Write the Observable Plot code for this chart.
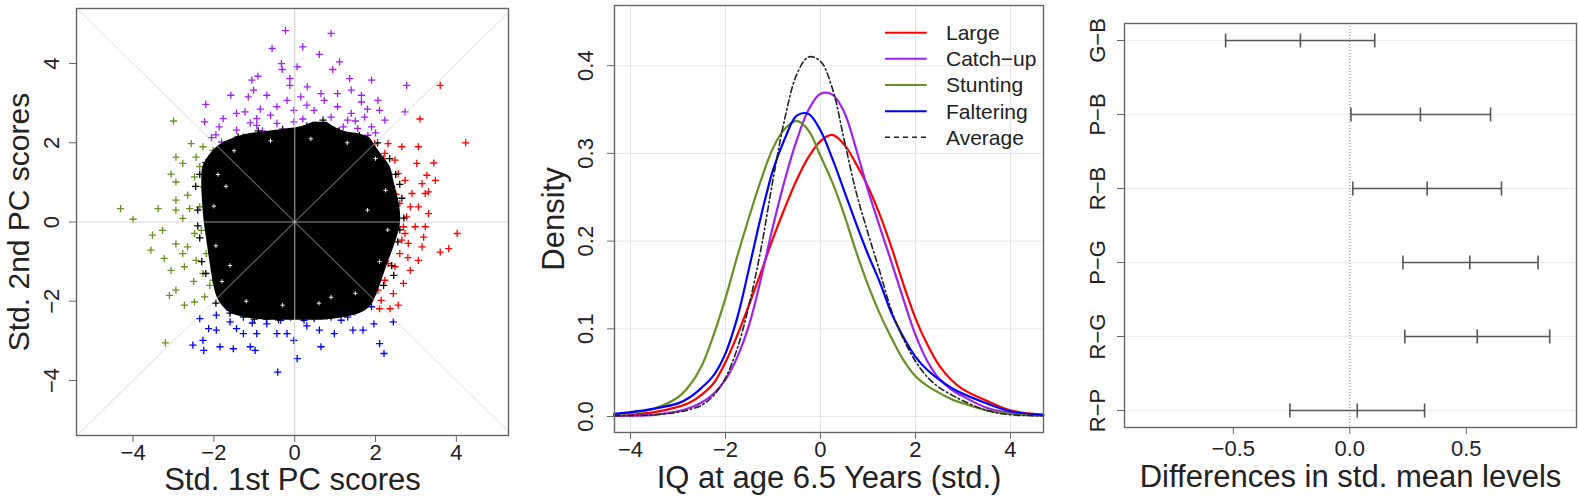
<!DOCTYPE html>
<html><head><meta charset="utf-8">
<script src="https://cdn.jsdelivr.net/npm/d3@7"></script>
<script src="https://cdn.jsdelivr.net/npm/@observablehq/plot@0.6"></script>
<style>
body{margin:0;background:#fff;}
#wrap{position:relative;width:1578px;height:498px;background:#fff;overflow:hidden;}
#wrap > svg{position:absolute;top:0;}
</style></head><body><div id="wrap"></div>
<script>
// ---------- Panel 1: PC scores scatter ----------
const pcTicks = [-4, -2, 0, 2, 4];
const pcPurple = [[-0.23,4.83],[0.9,4.76],[-0.56,4.38],[0.2,4.42],[0.61,4.23],[-0.33,4.0],[-0.31,3.85],[0.06,3.92],[1.11,4.04],[0.94,3.85],[-0.91,3.68],[-1.06,3.58],[-1.02,3.33],[-0.12,3.62],[-0.12,3.45],[0.31,3.41],[1.36,3.62],[1.9,3.58],[2.77,3.45],[-1.58,3.2],[-1.15,3.16],[-0.69,3.2],[-0.19,3.07],[0.73,3.07],[1.06,3.24],[1.4,3.33],[1.65,3.2],[2.06,3.07],[2.73,2.78],[-2.2,2.97],[-1.77,2.61],[-2.23,2.53],[-1.44,2.74],[-0.94,2.61],[-0.44,2.91],[-0.02,2.82],[0.48,2.82],[1.06,2.91],[1.4,2.74],[1.73,2.65],[2.23,2.57],[1.9,2.4],[1.56,2.36],[1.06,2.28],[-2.06,2.13],[-1.81,2.02],[-1.44,2.32],[-0.94,2.44],[-0.44,2.49],[-0.02,2.53],[-0.6,2.7],[-1.6,1.9],[-1.27,2.15],[1.81,2.19],[1.31,2.57],[2.1,2.82],[0.65,3.24],[0.15,3.16],[1.65,3.03],[-1.23,2.78],[-1.87,2.4],[-0.8,2.3],[-0.3,2.35],[0.2,2.6],[0.5,2.45],[1.2,2.4],[1.5,2.55],[0.9,2.65],[-1.1,2.5],[-0.5,2.2],[2.0,2.25],[0.3,2.95],[-0.85,2.85],[1.8,2.85],[-1.95,2.2]];
const pcRed = [[3.6,3.45],[3.1,2.6],[4.23,2.0],[2.65,1.9],[1.98,1.98],[2.23,1.73],[2.48,1.56],[3.02,1.48],[3.44,1.49],[3.27,1.18],[3.48,1.05],[3.15,0.97],[2.73,1.05],[2.9,0.72],[3.23,0.72],[2.6,0.47],[3.06,0.38],[3.31,0.21],[2.77,0.13],[2.98,-0.12],[2.73,-0.29],[4.02,-0.29],[3.19,-0.38],[2.81,-0.54],[3.15,-0.63],[3.81,-0.67],[3.6,-0.76],[2.6,-0.8],[3.06,-0.97],[2.48,-1.13],[2.86,-1.22],[2.23,-1.47],[2.69,-1.55],[2.06,-1.72],[2.44,-1.81],[2.14,-1.98],[2.56,-2.1],[2.36,-2.19],[2.1,-2.19],[2.4,0.89],[2.56,1.22],[2.1,1.39],[2.31,1.98],[3.06,1.9],[2.69,-0.12],[2.86,0.38],[3.31,0.76],[2.44,0.13],[2.65,-0.46],[2.31,-1.05],[1.94,-1.81],[3.23,-0.12],[2.2,1.6],[2.5,0.7],[2.8,-0.9],[2.35,-0.3]];
const pcGreen = [[-3.0,2.55],[-4.31,0.34],[-4.0,0.07],[-3.38,0.34],[-3.52,-0.33],[-3.56,-0.71],[-3.23,-0.92],[-3.2,-3.05],[-3.06,1.21],[-2.94,1.01],[-2.77,1.48],[-2.56,1.98],[-2.27,1.9],[-2.44,1.64],[-2.02,1.81],[-2.94,0.55],[-2.94,0.3],[-2.77,0.09],[-2.65,0.68],[-2.48,1.14],[-2.94,-0.55],[-2.65,-0.63],[-2.48,-0.29],[-2.35,0.38],[-3.06,-1.22],[-2.73,-1.13],[-2.44,-0.97],[-2.94,-1.72],[-3.1,-1.85],[-2.73,-2.1],[-2.48,-2.02],[-2.23,-1.89],[-2.1,-1.6],[-2.27,-1.3],[-2.19,-0.8],[-2.31,-0.21],[-2.27,0.89],[-2.6,0.34],[-2.77,-0.8],[-3.27,-0.21],[-2.02,-1.47],[-2.94,1.64],[-2.5,-1.5],[-2.35,1.4]];
const pcBlue = [[-0.42,-3.79],[0.06,-3.45],[-2.52,-3.11],[-2.27,-2.99],[-2.25,-3.24],[-1.85,-3.15],[-1.52,-3.2],[-1.1,-3.15],[-0.98,-3.24],[-2.35,-2.44],[-2.13,-2.69],[-1.94,-2.35],[-1.6,-2.52],[-1.27,-2.4],[-1.44,-2.69],[-0.94,-2.82],[-0.69,-2.57],[-0.44,-2.82],[-0.35,-2.48],[-0.02,-2.99],[0.23,-2.48],[0.65,-3.15],[0.61,-2.73],[0.98,-2.82],[1.15,-2.48],[1.44,-2.73],[1.69,-2.73],[2.1,-3.07],[2.21,-3.32],[1.96,-2.57],[2.44,-2.52],[1.48,-2.27],[1.9,-2.14],[1.73,-1.98],[-1.77,-1.98],[-1.6,-2.23],[-0.94,-2.35],[-0.1,-2.4],[0.48,-2.44],[0.9,-2.4],[1.06,-2.27],[-1.94,-2.73],[-1.27,-2.82],[-0.19,-2.82],[1.31,-2.4],[-0.7,-2.45],[0.3,-2.62],[-1.05,-2.55]];
// outline of the dense black core: [y, left x, right x]
const pcCoreRows = [[-2.48,-0.7,0.7],[-2.4,-1.3,1.3],[-2.28,-1.62,1.68],[-2.1,-1.8,1.9],[-1.9,-1.92,2.0],[-1.5,-2.02,2.15],[-1.0,-2.1,2.32],[-0.5,-2.17,2.5],[0,-2.24,2.62],[0.5,-2.28,2.58],[1.0,-2.3,2.46],[1.4,-2.27,2.36],[1.7,-2.1,2.15],[1.95,-1.85,1.97],[2.12,-1.5,1.86],[2.22,-1.15,1.6],[2.3,-0.6,1.2],[2.42,0.2,0.95],[2.52,0.45,0.8]];
const pcCoreEdge = [[-2.45,0.9],[-2.4,0.3],[-2.35,-0.4],[-2.2,-1.3],[-1.95,-2.05],[-1.6,-2.3],[-1.0,-2.45],[-0.4,-2.47],[0.2,-2.42],[0.8,-2.37],[1.3,-2.25],[1.8,-2.05],[2.2,-1.6],[2.4,-1.1],[2.55,-0.5],[2.7,0.1],[2.65,0.6],[2.5,1.2],[2.35,1.6],[2.05,2.0],[1.6,2.18],[1.1,2.3],[0.7,2.57],[0.3,2.42],[-0.3,2.32],[-0.9,2.3],[-1.4,2.15],[-1.85,1.85],[-2.2,1.5],[-2.35,1.2],[-2.3,-1.0],[-2.4,-0.1],[2.45,-1.35],[2.6,-0.2],[2.6,0.95]];
// light specks inside the edge of the core
const pcCoreSpecks = [[-1.9,1.2],[-2.0,0.4],[-1.95,-0.6],[-1.8,-1.5],[-1.2,-2.0],[-0.3,-2.1],[0.6,-2.05],[1.5,-1.8],[2.1,-1.0],[2.3,-0.2],[2.25,0.8],[2.0,1.6],[1.3,2.0],[0.4,2.1],[-0.6,2.05],[-1.5,1.8],[-1.6,-1.1],[1.8,0.3],[-1.7,0.9],[0.9,-1.9]];
const pcRefEnds = [-5.4, 5.4];

// ---------- Panel 2: IQ densities (read at a common grid of IQ values) ----------
const iqTicks = [-4, -2, 0, 2, 4];
const densTicks = [0, 0.1, 0.2, 0.3, 0.4];
const iqGrid =          [-4.34, -4,    -3.5,  -3,    -2.75, -2.5,  -2.25, -2,    -1.75, -1.5,  -1.25, -1,    -0.75, -0.5,  -0.25, 0,     0.25,  0.5,   0.75,  1,     1.25,  1.5,   1.75,  2,     2.25,  2.5,   2.75,  3,     3.5,   4,     4.69];
const densityLarge =    [0.001, 0.002, 0.005, 0.011, 0.016, 0.025, 0.038, 0.062, 0.093, 0.128, 0.165, 0.203, 0.238, 0.270, 0.296, 0.314, 0.321, 0.310, 0.288, 0.262, 0.230, 0.192, 0.150, 0.112, 0.082, 0.058, 0.042, 0.031, 0.018, 0.007, 0.002];
const densityCatchUp =  [0.001, 0.001, 0.002, 0.006, 0.010, 0.016, 0.026, 0.042, 0.068, 0.105, 0.158, 0.217, 0.270, 0.315, 0.350, 0.368, 0.367, 0.347, 0.305, 0.258, 0.216, 0.175, 0.133, 0.093, 0.063, 0.043, 0.031, 0.023, 0.010, 0.004, 0.001];
const densityStunting = [0.002, 0.004, 0.009, 0.022, 0.036, 0.058, 0.093, 0.135, 0.183, 0.228, 0.270, 0.306, 0.328, 0.337, 0.326, 0.297, 0.267, 0.230, 0.188, 0.150, 0.117, 0.089, 0.064, 0.046, 0.035, 0.027, 0.020, 0.015, 0.007, 0.003, 0.001];
const densityFaltering =[0.003, 0.005, 0.009, 0.015, 0.022, 0.033, 0.047, 0.072, 0.113, 0.170, 0.229, 0.281, 0.317, 0.343, 0.345, 0.326, 0.294, 0.257, 0.220, 0.185, 0.153, 0.117, 0.090, 0.068, 0.053, 0.042, 0.033, 0.026, 0.015, 0.006, 0.002];
const densityAverage =  [0.001, 0.001, 0.002, 0.005, 0.008, 0.013, 0.024, 0.044, 0.078, 0.128, 0.192, 0.270, 0.340, 0.390, 0.410, 0.405, 0.374, 0.315, 0.256, 0.209, 0.165, 0.120, 0.088, 0.063, 0.045, 0.033, 0.025, 0.018, 0.007, 0.002, 0.001];
const densityNames = ["Large", "Catch\u2212up", "Stunting", "Faltering", "Average"];
const densityColors = ["#FF0000", "#A020F0", "#6B8E23", "#0000FF", "#222222"];
const densityDash = [null, null, null, null, "6,3,1.5,3"];
const densitySeries = [densityLarge, densityCatchUp, densityStunting, densityFaltering, densityAverage];

// ---------- Panel 3: differences in std. mean levels ----------
const diffPairs = ["G\u2212B", "P\u2212B", "R\u2212B", "P\u2212G", "R\u2212G", "R\u2212P"];
const diffLow = [-0.533, 0.005, 0.013, 0.228, 0.236, -0.257];
const diffMid = [-0.212, 0.303, 0.332, 0.515, 0.547, 0.032];
const diffHigh = [0.107, 0.604, 0.651, 0.808, 0.858, 0.321];
const diffTicks = [-0.5, 0, 0.5];

// ---------- shared styling ----------
const FONT = '"Liberation Sans", Arial, Helvetica, sans-serif';
const TXT = "#222";
const FRAME = "#666";
const baseStyle = {fontFamily: FONT, color: TXT, background: "white", overflow: "visible", fontSize: "22px"};
const plusSymbol = {draw(ctx, size) { const r = Math.sqrt(size / Math.PI); ctx.moveTo(-r, 0); ctx.lineTo(r, 0); ctx.moveTo(0, -r); ctx.lineTo(0, r); }};
const vbarSymbol = {draw(ctx, size) { const r = Math.sqrt(size / Math.PI); ctx.moveTo(0, -r); ctx.lineTo(0, r); }};
const intFmt = d3.format("d");
const oneFmt = d3.format(".1f");
const wrap = document.getElementById("wrap");

function pts(arr, color, r = 3.6, sw = 1.3) {
  return Plot.dot(arr, {x: d => d[0], y: d => d[1], symbol: plusSymbol, r, stroke: color, fill: "none", strokeWidth: sw});
}
const rotLabel = {frameAnchor: "left", rotate: -90, textAnchor: "middle", lineAnchor: "middle", fill: TXT};

// Panel 1
const p1 = Plot.plot({
  width: 526, height: 498, marginLeft: 76, marginRight: 18, marginTop: 8, marginBottom: 63,
  style: baseStyle,
  x: {domain: [-5.4, 5.29]}, y: {domain: [-5.39, 5.39]},
  marks: [
    pts(pcPurple, "#A020F0"), pts(pcRed, "#FF0000"), pts(pcGreen, "#6B8E23"), pts(pcBlue, "#0000FF"),
    Plot.areaX(pcCoreRows, {y: d => d[0], x1: d => d[1], x2: d => d[2], fill: "#000", curve: "catmull-rom"}),
    pts(pcCoreEdge, "#000"),
    pts(pcCoreSpecks, "#ffffff", 2.2, 0.9),
    Plot.line(pcRefEnds, {x: d => d, y: d => d, stroke: "#cfcfcf", strokeOpacity: 0.45, strokeWidth: 1.2, clip: true}),
    Plot.line(pcRefEnds, {x: d => d, y: d => -d, stroke: "#cfcfcf", strokeOpacity: 0.45, strokeWidth: 1.2, clip: true}),
    Plot.ruleY([0], {stroke: "#c8c8c8", strokeOpacity: 0.75, strokeWidth: 1.2}),
    Plot.ruleX([0], {stroke: "#c8c8c8", strokeOpacity: 0.75, strokeWidth: 1.2}),
    Plot.frame({stroke: FRAME, strokeWidth: 1.4}),
    Plot.axisX({ticks: pcTicks, tickSize: 7, tickPadding: 2, tickFormat: intFmt, fontSize: 22, label: null, stroke: FRAME, fill: TXT}),
    Plot.axisY({ticks: pcTicks, tickSize: 7, tickFormat: () => "", label: null, stroke: FRAME}),
    Plot.text(pcTicks, {...rotLabel, y: d => d, text: d => intFmt(d), dx: -25, fontSize: 22}),
    Plot.text(["Std. 1st PC scores"], {text: d => d, frameAnchor: "bottom", dy: 45, fontSize: 31, lineAnchor: "middle", fill: TXT}),
    Plot.text(["Std. 2nd PC scores"], {...rotLabel, text: d => d, dx: -57, fontSize: 30})
  ]
});
p1.style.left = "0px";
wrap.appendChild(p1);

// Panel 2
const p2 = Plot.plot({
  width: 526, height: 498, marginLeft: 88, marginRight: 9, marginTop: 5, marginBottom: 66,
  style: baseStyle,
  x: {domain: [-4.337, 4.695]}, y: {domain: [-0.0182, 0.4686]},
  marks: [
    Plot.gridX({ticks: iqTicks, stroke: "#e6e6e6", strokeOpacity: 1}),
    Plot.gridY({ticks: densTicks, stroke: "#e6e6e6", strokeOpacity: 1}),
    ...densitySeries.map((s, i) => Plot.line(s, {x: (d, j) => iqGrid[j], y: d => d, stroke: densityColors[i], strokeWidth: i === 4 ? 1.6 : 2.2, strokeDasharray: densityDash[i], curve: "catmull-rom"})),
    Plot.frame({stroke: FRAME, strokeWidth: 1.4}),
    Plot.axisX({ticks: iqTicks, tickSize: 7, tickPadding: 2, tickFormat: intFmt, fontSize: 22, label: null, stroke: FRAME, fill: TXT}),
    Plot.axisY({ticks: densTicks, tickSize: 7, tickFormat: () => "", label: null, stroke: FRAME}),
    Plot.text(densTicks, {...rotLabel, y: d => d, text: d => oneFmt(d), dx: -29, fontSize: 22}),
    Plot.text(["IQ at age 6.5 Years (std.)"], {text: d => d, frameAnchor: "bottom", dy: 46, fontSize: 31, lineAnchor: "middle", fill: TXT}),
    Plot.text(["Density"], {...rotLabel, text: d => d, dx: -60, fontSize: 31})
  ]
});
p2.style.left = "526px";
wrap.appendChild(p2);

// legend for panel 2
const leg = d3.create("svg").attr("width", 190).attr("height", 150)
  .style("position", "absolute").style("left", "880px").style("top", "18px")
  .style("font-family", FONT);
densityNames.forEach((name, i) => {
  const cy = 14.7 + i * 26.15;
  leg.append("line").attr("x1", 5).attr("x2", 46.7).attr("y1", cy).attr("y2", cy)
    .attr("stroke", densityColors[i]).attr("stroke-width", i === 4 ? 1.6 : 2)
    .attr("stroke-dasharray", i === 4 ? "5,4" : null);
  leg.append("text").attr("x", 66).attr("y", cy).attr("dy", "0.35em")
    .attr("font-size", 21).attr("fill", TXT).text(name);
});
wrap.appendChild(leg.node());

// Panel 3
const diffRows = diffPairs.map((p, i) => ({pair: p, lo: diffLow[i], mid: diffMid[i], hi: diffHigh[i]}));
const p3 = Plot.plot({
  width: 526, height: 498, marginLeft: 72, marginRight: 2, marginTop: 23, marginBottom: 71,
  style: baseStyle,
  x: {domain: [-0.967, 0.973]}, y: {type: "point", domain: diffPairs, padding: 0.2},
  marks: [
    Plot.ruleY(diffPairs, {y: d => d, stroke: "#ececec", strokeWidth: 1.2}),
    Plot.ruleX([0], {stroke: "#888", strokeDasharray: "1,2", strokeWidth: 1}),
    Plot.ruleY(diffRows, {y: "pair", x1: "lo", x2: "hi", stroke: "#555", strokeWidth: 1.6}),
    Plot.dot(diffRows, {x: "lo", y: "pair", symbol: vbarSymbol, r: 7, stroke: "#555", fill: "none", strokeWidth: 1.6}),
    Plot.dot(diffRows, {x: "mid", y: "pair", symbol: vbarSymbol, r: 7, stroke: "#555", fill: "none", strokeWidth: 1.6}),
    Plot.dot(diffRows, {x: "hi", y: "pair", symbol: vbarSymbol, r: 7, stroke: "#555", fill: "none", strokeWidth: 1.6}),
    Plot.frame({stroke: FRAME, strokeWidth: 1.4}),
    Plot.axisX({ticks: diffTicks, tickSize: 7, tickPadding: 6, tickFormat: oneFmt, fontSize: 22, label: null, stroke: FRAME, fill: TXT}),
    Plot.axisY({tickSize: 7, tickFormat: () => "", label: null, stroke: FRAME}),
    Plot.text(diffPairs, {...rotLabel, y: d => d, text: d => d, dx: -27, fontSize: 22}),
    Plot.text(["Differences in std. mean levels"], {text: d => d, frameAnchor: "bottom", dy: 50, fontSize: 31, lineAnchor: "middle", fill: TXT})
  ]
});
p3.style.left = "1052px";
wrap.appendChild(p3);
</script></body></html>
